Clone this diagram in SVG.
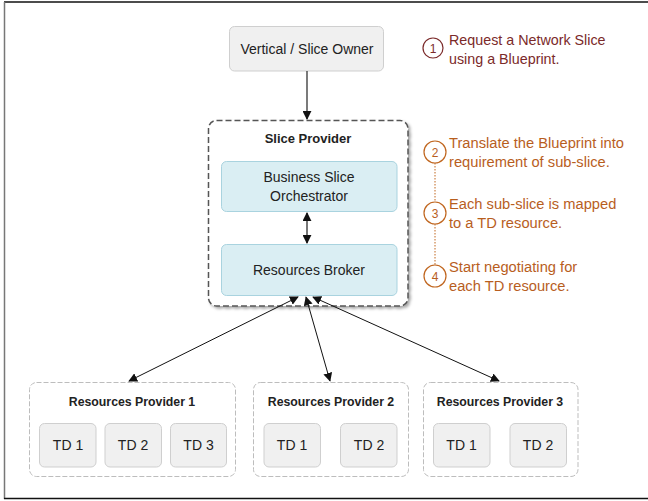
<svg xmlns="http://www.w3.org/2000/svg" width="648" height="501" viewBox="0 0 648 501">
<defs>
<style>
text{font-family:"Liberation Sans",Arial,sans-serif;fill:#222}
.lbl{font-size:14px;text-anchor:middle}
.b{font-weight:bold;text-anchor:middle}
.grey{fill:#f0f0f0;stroke:#cfcfcf;stroke-width:1}
.blue{fill:#daeef3;stroke:#a9d3df;stroke-width:1}
.rp{fill:#fff;stroke:#bdbdbd;stroke-width:1;stroke-dasharray:5 2}
.ann1{font-size:14.3px;fill:#7b2a2a}
.ann{font-size:14.7px;fill:#b85e1e}
.c1{fill:none;stroke:#7b2a2a;stroke-width:1.2}
.c2{fill:none;stroke:#c0661f;stroke-width:1.2}
.cn1{font-size:12px;fill:#7b2a2a;text-anchor:middle}
.cn{font-size:12px;fill:#b85e1e;text-anchor:middle}
.ln{stroke:#111;stroke-width:1;fill:none}
</style>
<marker id="ah" viewBox="0 0 10 10" refX="9" refY="5" markerWidth="9" markerHeight="9" markerUnits="userSpaceOnUse" orient="auto-start-reverse">
<path d="M0,0 L10,5 L0,10 z" fill="#111"/>
</marker>
<filter id="sh" x="-10%" y="-10%" width="125%" height="125%">
<feDropShadow dx="2" dy="2" stdDeviation="1.5" flood-color="#000" flood-opacity="0.35"/>
</filter>
</defs>
<g id="frame">
<line x1="4" y1="2" x2="648" y2="2" stroke="#111" stroke-width="1.5"/>
<line x1="4.5" y1="2" x2="4.5" y2="499" stroke="#777" stroke-width="1.5"/>
<line x1="4" y1="498.5" x2="648" y2="498.5" stroke="#111" stroke-width="1.5"/>
</g>
<g id="owner">
<rect class="grey" x="229.5" y="26.5" width="154" height="44.5" rx="5"/>
<text class="lbl" x="307" y="54">Vertical / Slice Owner</text>
</g>
<g id="slice-provider">
<rect x="208.5" y="120.5" width="199.5" height="185.5" rx="8" fill="#fff" stroke="#555" stroke-width="1.5" stroke-dasharray="6 3" filter="url(#sh)"/>
<text class="b" x="308" y="143" font-size="13">Slice Provider</text>
</g>
<g id="bso">
<rect class="blue" x="221.5" y="161.5" width="175.5" height="50" rx="5"/>
<text class="lbl" x="309" y="182">Business Slice</text>
<text class="lbl" x="309" y="201">Orchestrator</text>
</g>
<g id="broker">
<rect class="blue" x="221.5" y="244.5" width="175.5" height="51" rx="5"/>
<text class="lbl" x="309" y="275">Resources Broker</text>
</g>
<g id="rp1">
<rect class="rp" x="29.5" y="382.5" width="206" height="94" rx="7"/>
<text class="b" x="132" y="406" font-size="12.3">Resources Provider 1</text>
<rect class="grey" x="39.5" y="423.5" width="56.5" height="43.5" rx="5"/>
<text class="lbl" x="68" y="450">TD 1</text>
<rect class="grey" x="105" y="423.5" width="56.5" height="43.5" rx="5"/>
<text class="lbl" x="133" y="450">TD 2</text>
<rect class="grey" x="170.5" y="423.5" width="56" height="43.5" rx="5"/>
<text class="lbl" x="198.5" y="450">TD 3</text>
</g>
<g id="rp2">
<rect class="rp" x="253.5" y="382.5" width="155" height="94" rx="7"/>
<text class="b" x="331" y="406" font-size="12.3">Resources Provider 2</text>
<rect class="grey" x="264" y="423.5" width="56.5" height="43.5" rx="5"/>
<text class="lbl" x="292" y="450">TD 1</text>
<rect class="grey" x="340.5" y="423.5" width="56.5" height="43.5" rx="5"/>
<text class="lbl" x="369" y="450">TD 2</text>
</g>
<g id="rp3">
<rect class="rp" x="423.5" y="382.5" width="154.5" height="94" rx="7"/>
<text class="b" x="500" y="406" font-size="12.3">Resources Provider 3</text>
<rect class="grey" x="433.5" y="423.5" width="56.5" height="43.5" rx="5"/>
<text class="lbl" x="461.5" y="450">TD 1</text>
<rect class="grey" x="510" y="423.5" width="56.5" height="43.5" rx="5"/>
<text class="lbl" x="538" y="450">TD 2</text>
</g>
<g id="steps">
<circle class="c1" cx="433" cy="48" r="10"/>
<text class="cn1" x="433" y="52.5">1</text>
<text class="ann1" x="449" y="45">Request a Network Slice</text>
<text class="ann1" x="449" y="64">using a Blueprint.</text>
<line x1="435" y1="163" x2="435" y2="202" stroke="#c0661f" stroke-width="1" stroke-dasharray="1.5 1.5"/>
<line x1="435" y1="224" x2="435" y2="265" stroke="#c0661f" stroke-width="1" stroke-dasharray="1.5 1.5"/>
<circle class="c2" cx="435" cy="152" r="11"/>
<text class="cn" x="435" y="156.5">2</text>
<text class="ann" x="449" y="148">Translate the Blueprint into</text>
<text class="ann" x="449" y="167">requirement of sub-slice.</text>
<circle class="c2" cx="435" cy="213" r="11"/>
<text class="cn" x="435" y="217.5">3</text>
<text class="ann" x="449" y="209">Each sub-slice is mapped</text>
<text class="ann" x="449" y="228">to a TD resource.</text>
<circle class="c2" cx="435" cy="276" r="11"/>
<text class="cn" x="435" y="280.5">4</text>
<text class="ann" x="449" y="272">Start negotiating for</text>
<text class="ann" x="449" y="291">each TD resource.</text>
</g>
<g id="connectors">
<line x1="307" y1="71" x2="307" y2="119" stroke="#333" stroke-width="1.3" marker-end="url(#ah)"/>
<line x1="307" y1="213" x2="307" y2="243" stroke="#777" stroke-width="2" marker-start="url(#ah)" marker-end="url(#ah)"/>
<line class="ln" x1="298" y1="297" x2="129" y2="381" marker-start="url(#ah)" marker-end="url(#ah)"/>
<line class="ln" x1="306" y1="297" x2="330" y2="381" marker-start="url(#ah)" marker-end="url(#ah)"/>
<line class="ln" x1="313" y1="297" x2="499" y2="381" marker-start="url(#ah)" marker-end="url(#ah)"/>
</g>
</svg>
